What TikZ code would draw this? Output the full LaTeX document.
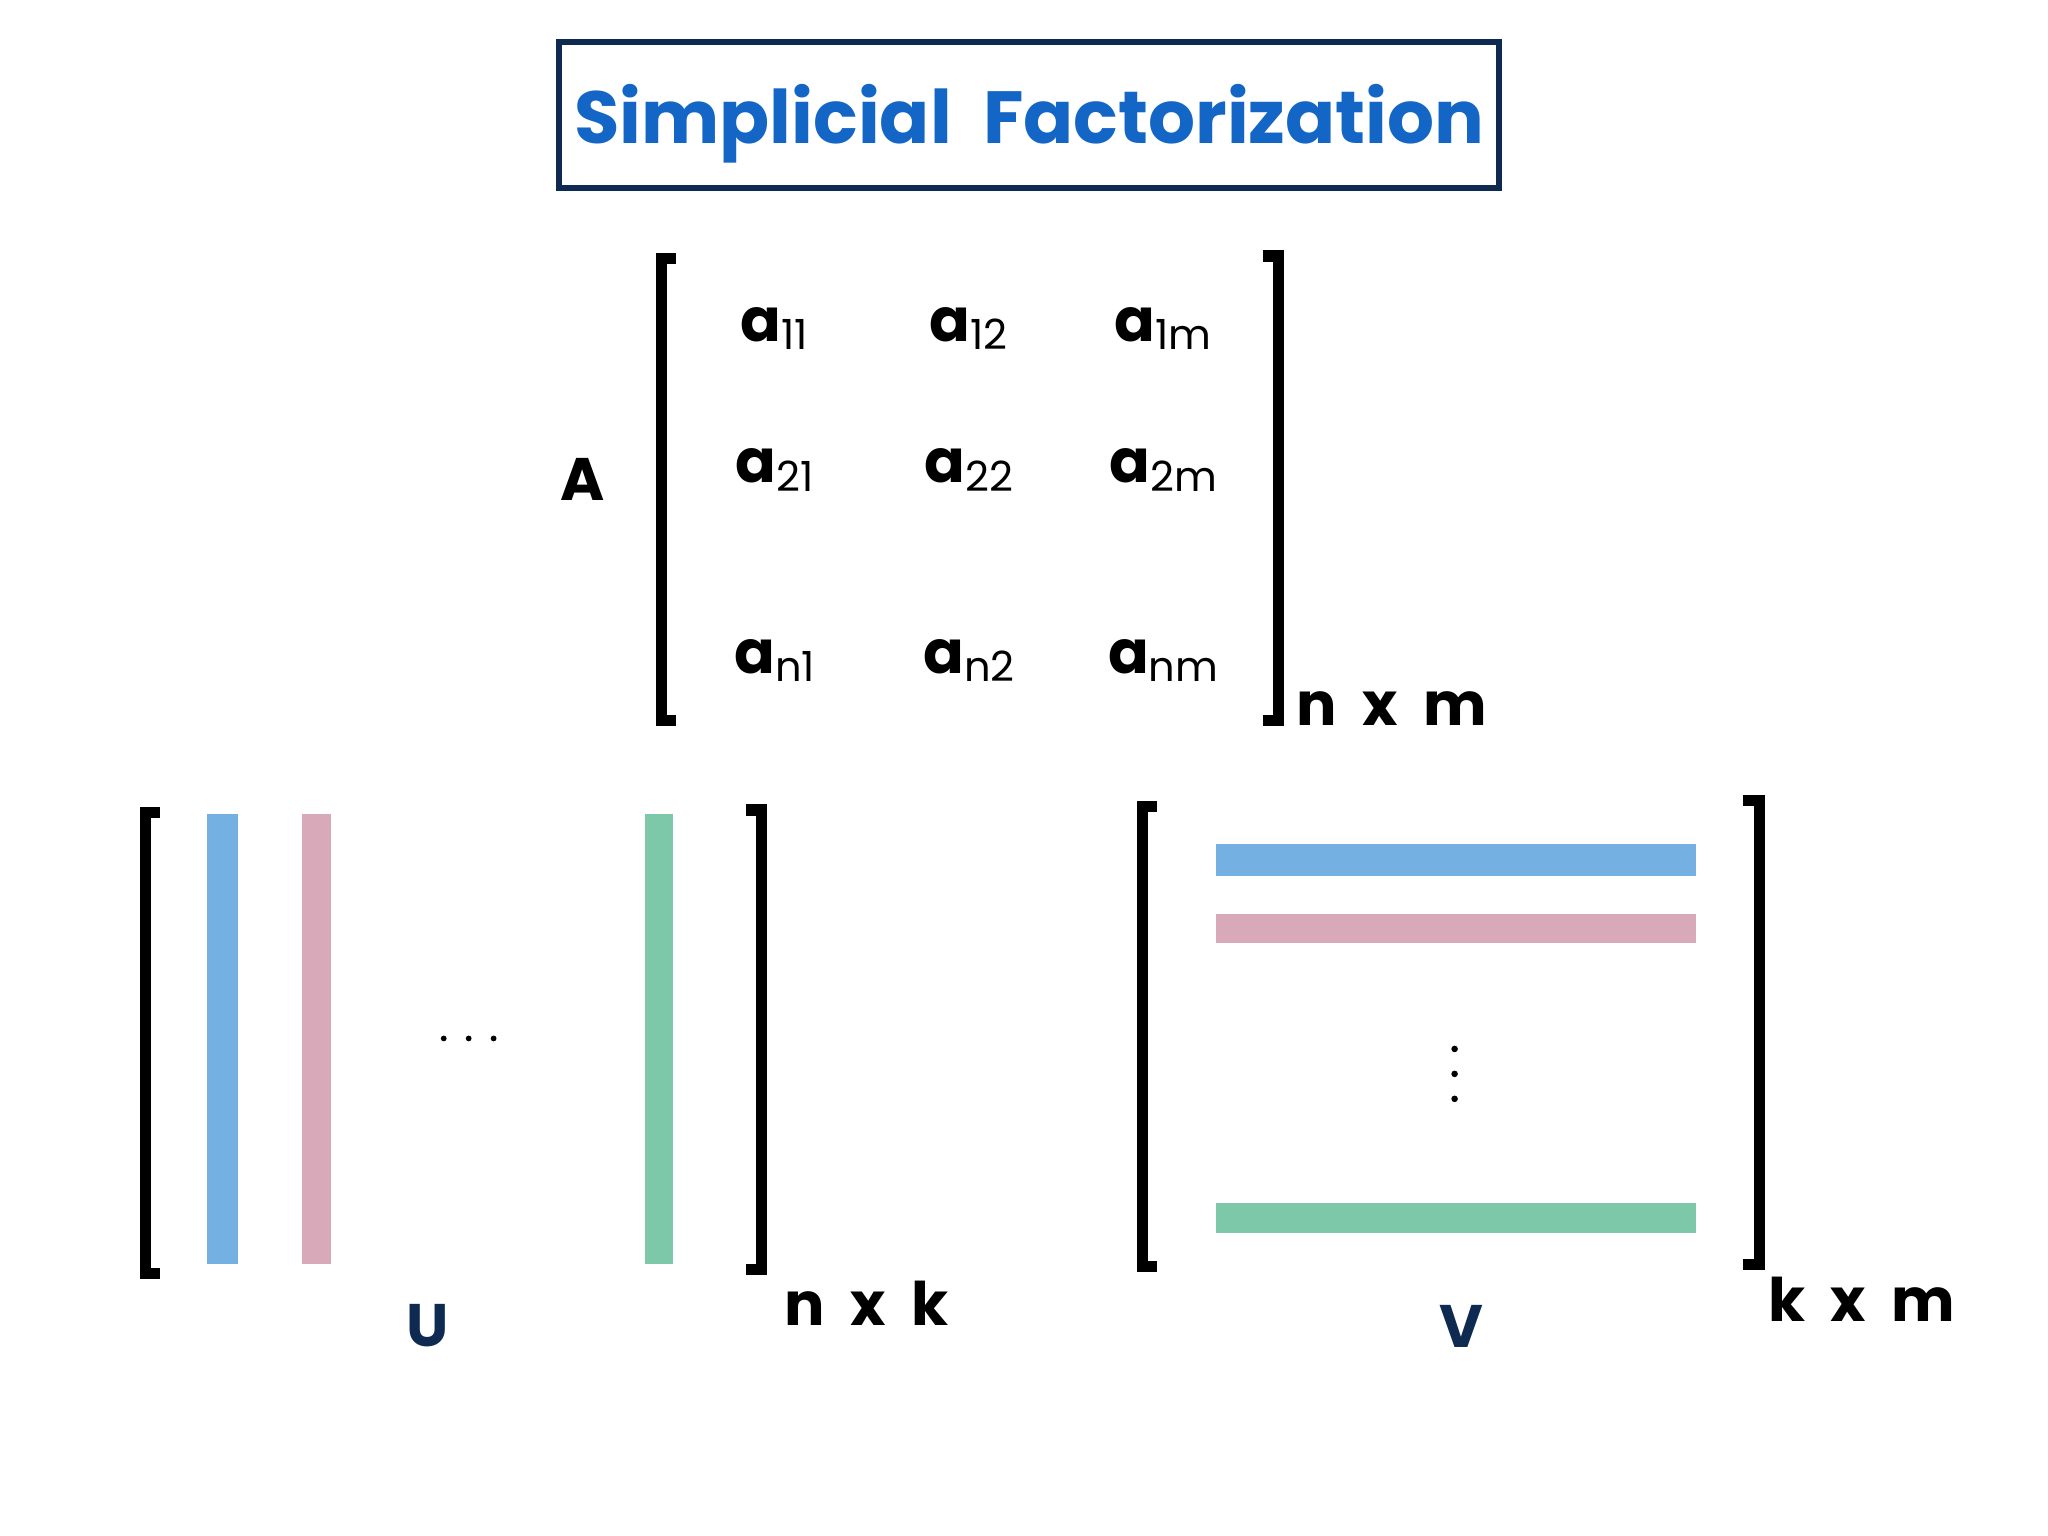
\documentclass[tikz,border=0pt]{standalone}
\usepackage{fontspec}
\setmainfont{Poppins}
\definecolor{tblue}{HTML}{1366C6}
\definecolor{bblue}{HTML}{75B0E3}
\definecolor{bpink}{HTML}{D8A9B9}
\definecolor{bgreen}{HTML}{7DC8A8}
\definecolor{navy}{HTML}{0F2A50}
\tikzset{
 brk/.style={line width=2.4pt,line cap=butt},
 ent/.style={font=\fontsize{13}{15}\selectfont\bfseries},
 lab/.style={font=\fontsize{13}{16}\selectfont\bfseries},
 dotc/.style={fill=black}
}
\newcommand{\sbs}[1]{\raisebox{-0.25ex}{\fontsize{9}{10}\selectfont\mdseries #1}}
\begin{document}
\begin{tikzpicture}[x=0.01cm,y=-0.01cm]
\useasboundingbox[fill=white] (0,0) rectangle (1560,1170);
\draw[navy,line width=1.2pt] (426,32) rectangle (1142,143);
\node[text=tblue,font=\fontsize{16}{20}\selectfont\bfseries] (ttext) at (784,94) {Simplicial\ \ Factorization};
% A matrix
\draw[brk] (515,197) -- (504,197) -- (504,549) -- (515,549);
\draw[brk] (962,195) -- (974,195) -- (974,549) -- (962,549);
\node[ent] (a11) at (590,250) {a\sbs{11}};
\node[ent] (a12) at (738,250) {a\sbs{12}};
\node[ent] (a1m) at (886,250) {a\sbs{1m}};
\node[ent] (a21) at (590,358) {a\sbs{21}};
\node[ent] (a22) at (738,358) {a\sbs{22}};
\node[ent] (a2m) at (886,358) {a\sbs{2m}};
\node[ent] (an1) at (590,503) {a\sbs{n1}};
\node[ent] (an2) at (738,503) {a\sbs{n2}};
\node[ent] (anm) at (886,503) {a\sbs{nm}};
\node[lab] (A) at (444,365) {A};
\node[lab] (nm) at (1060,540) {n\ \ x\ \ m};
% U
\draw[brk] (122,619) -- (111,619) -- (111,970) -- (122,970);
\draw[brk] (568,617) -- (580,617) -- (580,967) -- (568,967);
\fill[bblue] (158,620) rectangle (181,963);
\fill[bpink] (230,620) rectangle (252,963);
\fill[bgreen] (491,620) rectangle (513,963);
\fill[dotc] (338,791) circle[radius=2.2]; \fill[dotc] (357,791) circle[radius=2.2]; \fill[dotc] (376,791) circle[radius=2.2];
\node[lab,text=navy] (U) at (326,1010) {U};
\node[lab] (nk) at (660,993) {n\ \ x\ \ k};
% V
\draw[brk] (881,614) -- (870,614) -- (870,965) -- (881,965);
\draw[brk] (1328,610) -- (1340,610) -- (1340,963) -- (1328,963);
\fill[bblue] (926,643) rectangle (1292,667);
\fill[bpink] (926,696) rectangle (1292,718);
\fill[bgreen] (926,916) rectangle (1292,939);
\fill[dotc] (1108,799) circle[radius=2.5]; \fill[dotc] (1108,818) circle[radius=2.5]; \fill[dotc] (1108,837) circle[radius=2.5];
\node[lab,text=navy] (V) at (1113,1010) {V};
\node[lab] (km) at (1418,990) {k\ \ x\ \ m};
\end{tikzpicture}
\end{document}
